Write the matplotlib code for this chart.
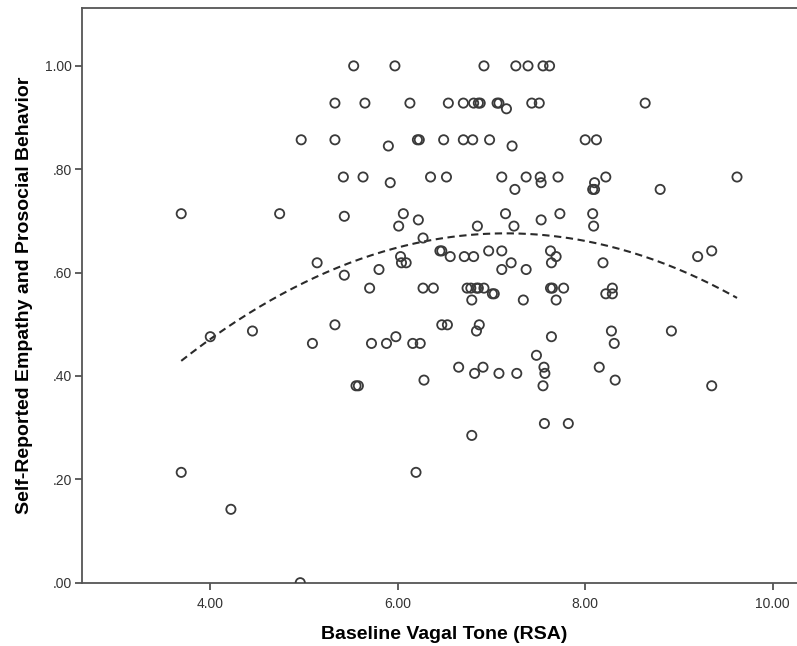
import numpy as np
import matplotlib
matplotlib.use("Agg")
import matplotlib.pyplot as plt

plt.rcParams['font.family'] = ['Liberation Sans', 'DejaVu Sans']

# baseline vagal tone (RSA) and self-reported empathy, grouped by score row
rsa = [
    5.53, 5.97, 6.92, 7.26, 7.39, 7.55, 7.62,
    5.33, 5.65, 6.13, 6.54, 6.70, 6.81, 6.86, 6.88, 7.06, 7.08, 7.43, 7.51, 8.64, 7.16,
    4.97, 5.33, 6.21, 6.23, 6.49, 6.70, 6.80, 6.98, 8.00, 8.12, 5.90, 7.22,
    5.42, 5.63, 6.35, 6.52, 7.11, 7.37, 7.52, 7.71, 8.22, 9.62, 5.92, 7.53, 8.10,
    7.25, 8.08, 8.10, 8.80,
    3.69, 4.74, 6.06, 7.15, 7.73, 8.08, 5.43, 6.22, 7.53, 6.01, 6.85, 7.24, 8.09,
    6.27, 6.45, 6.47, 6.97, 7.11, 7.63, 9.35, 6.03, 6.56, 6.71, 6.81, 7.69, 9.20,
    5.14, 6.04, 6.09, 7.21, 7.64, 8.19, 5.80, 7.11, 7.37, 5.43,
    5.70, 6.27, 6.38, 6.74, 6.78, 6.84, 6.86, 6.92, 7.63, 7.65, 7.77, 8.29,
    7.01, 7.03, 8.22, 8.29, 6.79, 7.34, 7.69,
    5.33, 6.47, 6.53, 6.87, 4.45, 6.84, 8.28, 8.92, 4.00, 5.98, 7.64,
    5.09, 5.72, 5.88, 6.16, 6.24, 8.31,
    7.48, 6.65, 6.91, 7.56, 8.15, 6.82, 7.08, 7.27, 7.57, 6.28, 8.32,
    5.555, 5.58, 7.55, 9.35,
    7.565, 7.82, 6.79, 3.69, 6.195, 4.22, 4.96,
]
empathy = [
    1.00, 1.00, 1.00, 1.00, 1.00, 1.00, 1.00,
    .928, .928, .928, .928, .928, .928, .928, .928, .928, .928, .928, .928, .928, .917,
    .857, .857, .857, .857, .857, .857, .857, .857, .857, .857, .845, .845,
    .785, .785, .785, .785, .785, .785, .785, .785, .785, .785, .774, .774, .774,
    .761, .761, .761, .761,
    .714, .714, .714, .714, .714, .714, .709, .702, .702, .690, .690, .690, .690,
    .667, .642, .642, .642, .642, .642, .642, .631, .631, .631, .631, .631, .631,
    .619, .619, .619, .619, .619, .619, .606, .606, .606, .595,
    .570, .570, .570, .570, .570, .570, .570, .570, .570, .570, .570, .570,
    .559, .559, .559, .559, .547, .547, .547,
    .499, .499, .499, .499, .487, .487, .487, .487, .476, .476, .476,
    .463, .463, .463, .463, .463, .463,
    .440, .417, .417, .417, .417, .405, .405, .405, .405, .392, .392,
    .381, .381, .381, .381,
    .308, .308, .285, .2135, .2135, .142, 0.0,
]

x_ticks = [4, 6, 8, 10]
x_tick_labels = ["4.00", "6.00", "8.00", "10.00"]
y_ticks = [0, .2, .4, .6, .8, 1.0]
y_tick_labels = [".00", ".20", ".40", ".60", ".80", "1.00"]

x = np.array(rsa)
y = np.array(empathy)

fig = plt.figure(figsize=(7.97, 6.46), dpi=100)
ax = fig.add_axes([0.1025, 0.098, 0.8975, 0.8896])

ax.scatter(x, y, s=44, facecolors='none', edgecolors='#3a3a3a', linewidths=1.3, zorder=3)

# quadratic fit line
coef = np.polyfit(x, y, 2)
xs = np.linspace(x.min(), x.max(), 200)
ax.plot(xs, np.polyval(coef, xs), color='#2a2a2a', lw=1.5, dashes=(3.5, 2.2), zorder=2)

ax.set_xlim(2.628, 10.26)
ax.set_ylim(0, 1.112)
ax.set_xticks(x_ticks)
ax.set_xticklabels(x_tick_labels)
ax.set_yticks(y_ticks)
ax.set_yticklabels(y_tick_labels)
ax.tick_params(direction='out', length=5, width=1.2, color='#444444',
               labelsize=10, labelcolor='#333333')
ax.tick_params(axis='x', pad=5)
ax.tick_params(axis='y', pad=2)

for side in ['left', 'bottom', 'top']:
    ax.spines[side].set_color('#555555')
    ax.spines[side].set_linewidth(1.3)
ax.spines['right'].set_visible(False)

ax.set_xlabel("Baseline Vagal Tone (RSA)", fontsize=14, fontweight='bold')
ax.xaxis.set_label_coords(0.507, -0.075)
ax.set_ylabel("Self-Reported Empathy and Prosocial Behavior", fontsize=14, fontweight='bold', labelpad=9)

fig.savefig("out.png", dpi=100, facecolor='white')
